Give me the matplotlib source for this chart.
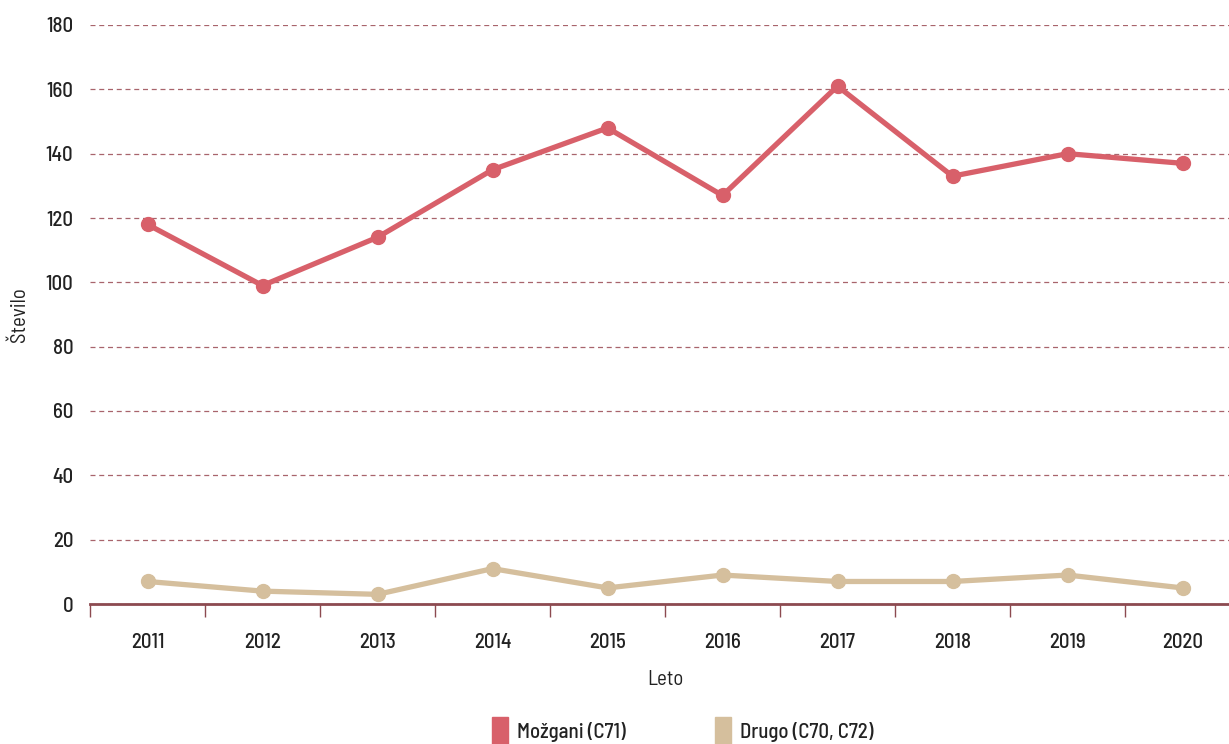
import numpy as np
import matplotlib.pyplot as plt
from matplotlib.patches import Patch

years = ['2011', '2012', '2013', '2014', '2015', '2016', '2017', '2018', '2019', '2020']
mozgani = [118, 99, 114, 135, 148, 127, 161, 133, 140, 137]
drugo = [7, 4, 3, 11, 5, 9, 7, 7, 9, 5]
series_labels = ['Možgani (C71)', 'Drugo (C70, C72)']
y_ticks = [0, 20, 40, 60, 80, 100, 120, 140, 160, 180]

# condensed DIN-like face, falls back if missing
plt.rcParams['font.family'] = ['Barlow Semi Condensed', 'Roboto Condensed', 'DejaVu Sans']
plt.rcParams['font.weight'] = 500

red = '#d8606a'
tan = '#d5bf9d'
axis_col = '#8c4a50'
grid_col = '#a8646c'
txt_col = '#222222'
fs = 15

fig = plt.figure(figsize=(12.29, 7.44), dpi=100)
# right edge runs past the figure like in the reference
ax = fig.add_axes([90 / 1229, 1 - 604 / 744, 1150 / 1229, (604 - 25) / 744])

x = np.arange(len(years))
ax.plot(x, mozgani, color=red, lw=3.8, marker='o', ms=10, zorder=3, clip_on=False)
ax.plot(x, drugo, color=tan, lw=3.8, marker='o', ms=10, zorder=3, clip_on=False)

ax.set_xlim(-0.5, len(years) - 0.5)
ax.set_ylim(0, 180)
ax.set_yticks(y_ticks)
ax.set_yticklabels([str(v) for v in y_ticks], fontsize=fs, color=txt_col)
ax.tick_params(axis='y', length=0, pad=12)
ax.yaxis.grid(True, linestyle=(0, (4, 3)), color=grid_col, lw=0.9)
ax.set_axisbelow(True)

# category labels centred, ticks on boundaries
ax.set_xticks(x)
ax.set_xticklabels(years, fontsize=fs, color=txt_col)
ax.tick_params(axis='x', length=0, pad=21)
ax.set_xticks(np.arange(len(years) + 1) - 0.5, minor=True)
ax.tick_params(axis='x', which='minor', length=9, color=axis_col, width=1)

for s in ['top', 'right', 'left']:
    ax.spines[s].set_visible(False)
ax.spines['bottom'].set_color(axis_col)
ax.spines['bottom'].set_linewidth(2)

ax.set_xlabel('Leto', fontsize=fs, color=txt_col, labelpad=13)
ax.set_ylabel('Število', fontsize=fs, color=txt_col, labelpad=12)

handles = [Patch(color=red), Patch(color=tan)]
fig.legend(handles, series_labels, loc='center', bbox_to_anchor=(683 / 1229, 1 - 731 / 744),
           ncol=2, frameon=False, fontsize=fs, handlelength=0.75, handleheight=1.75,
           columnspacing=4.3, handletextpad=0.45, labelcolor=txt_col)

fig.savefig('out.png', dpi=100)
